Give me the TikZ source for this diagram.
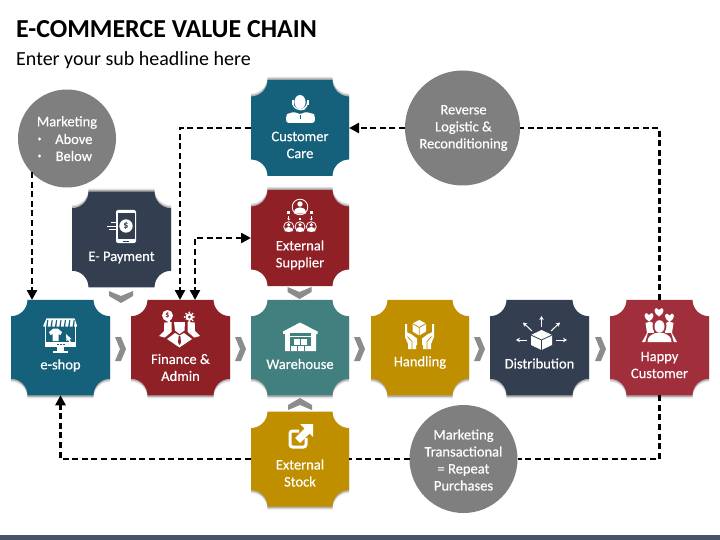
\documentclass[tikz,border=0pt]{standalone}
\usepackage{fontspec}
\setmainfont{Carlito}
\newfontfamily\txtfont[FakeBold=0.35]{Carlito}
\usetikzlibrary{arrows.meta,shadows,backgrounds}
\definecolor{cteal}{HTML}{15607A}
\definecolor{ccrim}{HTML}{8E2026}
\definecolor{cware}{HTML}{41807E}
\definecolor{cgold}{HTML}{BF8F00}
\definecolor{cdark}{HTML}{333F50}
\definecolor{chappy}{HTML}{A12F3B}
\definecolor{cgrey}{HTML}{7F7F7F}
\definecolor{cbar}{HTML}{44546A}
\makeatletter
\pgfdeclareshape{notchbox}{
  \inheritsavedanchors[from=rectangle]
  \inheritanchorborder[from=rectangle]
  \inheritanchor[from=rectangle]{center}
  \inheritanchor[from=rectangle]{north}
  \inheritanchor[from=rectangle]{south}
  \inheritanchor[from=rectangle]{east}
  \inheritanchor[from=rectangle]{west}
  \backgroundpath{
    \southwest \pgf@xa=\pgf@x \pgf@ya=\pgf@y
    \northeast \pgf@xb=\pgf@x \pgf@yb=\pgf@y
    \def\nr{16.5pt}
    \pgfpathmoveto{\pgfpoint{\pgf@xa+\nr}{\pgf@ya}}
    \pgfpathlineto{\pgfpoint{\pgf@xb-\nr}{\pgf@ya}}
    \pgfpatharc{180}{90}{\nr}
    \pgfpathlineto{\pgfpoint{\pgf@xb}{\pgf@yb-\nr}}
    \pgfpatharc{270}{180}{\nr}
    \pgfpathlineto{\pgfpoint{\pgf@xa+\nr}{\pgf@yb}}
    \pgfpatharc{0}{-90}{\nr}
    \pgfpathlineto{\pgfpoint{\pgf@xa}{\pgf@ya+\nr}}
    \pgfpatharc{90}{0}{\nr}
    \pgfpathclose
  }
}
\makeatother
\tikzset{
  x=1pt,y=-1pt,
  notched/.style={shape=notchbox,inner sep=0pt,outer sep=0pt,minimum width=99pt,minimum height=95.5pt,fill=#1},
  shadowdown/.style={general shadow={shadow yshift=-3pt,fill=black,opacity=.12},general shadow={shadow yshift=-1.5pt,fill=black,opacity=.22}},
  shadowup/.style={general shadow={shadow yshift=3pt,fill=black,opacity=.12},general shadow={shadow yshift=1.5pt,fill=black,opacity=.22}},
  bubble/.style={circle,fill=cgrey,inner sep=0pt,outer sep=0pt,minimum size=#1},
  txt/.style={text=white,align=center,font=\txtfont\fontsize{14.5}{17}\selectfont,inner sep=0pt},
  link/.style={draw=black,line width=2.4pt,dash pattern=on 6pt off 3.6pt},
  tipend/.style={-{Triangle[length=10pt,width=10pt]}},
  tipboth/.style={{Triangle[length=10pt,width=10pt]}-{Triangle[length=10pt,width=10pt]}},
  chev/.style={fill=cgrey!90!white,draw=none},
}
\newcommand{\chevright}[2]{\fill[chev] (#1,#2) -- ++(6,0) -- ++(5,12) -- ++(-5,12) -- ++(-6,0) -- ++(5,-12) -- cycle;}
\newcommand{\chevdown}[2]{\fill[chev] (#1,#2) -- ++(0,5) -- ++(12,7) -- ++(12,-7) -- ++(0,-5) -- ++(-12,5) -- cycle;}
\newcommand{\chevup}[2]{\fill[chev] (#1,#2) -- ++(0,-5) -- ++(12,-7) -- ++(12,7) -- ++(0,5) -- ++(-12,-5) -- cycle;}
\newcommand{\persn}[4]{\fill[#4] (#1,#2) circle[radius=3.6*#3];
  \fill[#4] (#1-8*#3,#2+13*#3) .. controls (#1-8*#3,#2+6*#3) and (#1-4*#3,#2+4.5*#3) .. (#1,#2+4.5*#3) .. controls (#1+4*#3,#2+4.5*#3) and (#1+8*#3,#2+6*#3) .. (#1+8*#3,#2+13*#3) -- cycle;}
\newcommand{\hrt}[3]{\fill[white] (#1,#2+#3) .. controls (#1-.6*#3,#2+.5*#3) and (#1-1.1*#3,#2+.1*#3) .. (#1-#3,#2-.35*#3) .. controls (#1-.9*#3,#2-#3) and (#1-.2*#3,#2-#3) .. (#1,#2-.45*#3) .. controls (#1+.2*#3,#2-#3) and (#1+.9*#3,#2-#3) .. (#1+#3,#2-.35*#3) .. controls (#1+1.1*#3,#2+.1*#3) and (#1+.6*#3,#2+.5*#3) .. (#1,#2+#3) -- cycle;}
\begin{document}
\begin{tikzpicture}
\useasboundingbox (0,0) rectangle (720,540);
\fill[white] (0,0) rectangle (720,540);
\fill[cbar] (0,535) rectangle (720,540);
\node[anchor=west,inner sep=0pt,font=\fontsize{25.9}{28}\selectfont\bfseries] (title) at (16,29) {E-COMMERCE VALUE CHAIN};
\node[anchor=west,inner sep=0pt,font=\fontsize{20}{24}\selectfont] (sub) at (16,60) {Enter your sub headline here};

% boxes
\node[notched=cteal,shadowdown] (eshop) at (60.5,347.5) {};
\node[notched=ccrim,shadowdown] (fin) at (180.5,347.5) {};
\node[notched=cware,shadowdown,minimum width=98pt] (ware) at (300,347.5) {};
\node[notched=cgold,shadowdown,minimum width=98pt] (hand) at (420,347.5) {};
\node[notched=cdark,shadowdown] (dist) at (539.5,347.5) {};
\node[notched=chappy,shadowdown] (happy) at (659.5,347.5) {};
\node[notched=cgold,shadowdown,minimum width=98pt,minimum height=95pt] (stock) at (300,459) {};
\node[notched=cteal,shadowup,minimum width=98pt,minimum height=96pt] (care) at (300,128) {};
\node[notched=ccrim,shadowup,minimum width=98pt,minimum height=96pt] (supp) at (300,238) {};
\node[notched=cdark,shadowup] (pay) at (121.5,239.5) {};

% circles
\node[bubble=98pt] (mk) at (67,138.5) {};
\node[bubble=115pt] (rev) at (462.5,128) {};
\node[bubble=108pt] (mt) at (463.5,459) {};

% coordinates
\coordinate (mkout) at (32,172);
\coordinate (finL) at (180,300);
\coordinate (finR) at (195,300);

% connectors
\draw[link,tipend] (mkout) -- (32,300);
\draw[link,tipend] (care.west) -| (finL);
\draw[link,tipboth] (supp.west) -| (finR);
\draw[link,tipend] (rev.west) -- (care.east);
\draw[link] (happy.north) |- (rev.east);
\draw[link] (happy.south) |- (mt.east);
\draw[link] (mt.west) -- (stock.east);
\draw[link,tipend] (stock.west) -| (eshop.south);

% chevrons
\chevright{115}{337}
\chevright{235}{337}
\chevright{354}{337}
\chevright{474}{337}
\chevright{595}{337}
\chevdown{109}{291}
\chevdown{287.5}{287}
\chevup{288}{410}

% labels
\node[txt] (mk1) at (67,122.5) {Marketing};
\node[txt,anchor=west] (mk2) at (55,139) {Above};
\node[txt,anchor=west] (mk3) at (55.5,156) {Below};
\fill[white] (39.5,139) circle[radius=1.6];
\fill[white] (39.5,156) circle[radius=1.6];
\node[txt] (revt) at (463.5,128) {Reverse\\Logistic \&\\Reconditioning};
\node[txt] (mtt) at (463.5,460) {Marketing\\Transactional\\= Repeat\\Purchases};
\node[txt] (l1) at (60.5,365.5) {e-shop};
\node[txt] (l2) at (180.5,367.5) {Finance \&\\Admin};
\node[txt] (l3) at (300,364) {Warehouse};
\node[txt] (l4) at (420,362.5) {Handling};
\node[txt] (l5) at (539.5,363.5) {Distribution};
\node[txt] (l6) at (659.5,365) {Happy\\Customer};
\node[txt] (l7) at (300,473) {External\\Stock};
\node[txt] (l8) at (300,145) {Customer\\Care};
\node[txt] (l9) at (300,255) {External\\Supplier};
\node[txt] (l10) at (121.5,257.5) {E- Payment};

% --- icons ---
% e-shop
\fill[white] (45,324) rectangle (76,346.5);
\fill[cteal] (46.3,325) rectangle (74.7,342);
\fill[white] (43.3,325.5) -- (46.5,318.3) -- (74.5,318.3) -- (77,325.5) -- (77,326.5) -- (43.3,326.5) -- cycle;
\foreach \i in {0,...,6}{\fill[cteal] ({47.3+\i*4.4},320) -- ({48.3+\i*4.4},320) -- ({47.6+\i*4.4},327) -- ({46.1+\i*4.4},327) -- cycle;}
\fill[white] (49,332) -- (53,328.7) -- (58,328.7) -- (62,332) -- (60.5,335) -- (58.5,334) -- (58.5,341) -- (52.5,341) -- (52.5,334) -- (50.5,335) -- cycle;
\fill[white] (66,334) -- (71.5,339) -- (69.5,339.5) -- (71,342) -- (69.5,342.5) -- (68,340) -- (66.5,341) -- cycle;
\foreach \i in {0,1,2}{\fill[cteal] ({57+\i*3},343.5) rectangle ({58.5+\i*3},345);}
\fill[white] (57,346) rectangle (64,351);
\fill[white] (53,351) rectangle (68,353);
% finance
\fill[white] (167.5,315.5) circle[radius=5.5];
\fill[white] (165,320) -- (170,320) -- (170,323) -- cycle;
\node[inner sep=0pt,text=ccrim,font=\fontsize{8}{8}\selectfont\bfseries] (fdollar) at (167.5,315.5) {\$};
\fill[white] (189.3,317) circle[radius=3.8];
\foreach \a in {0,45,...,315}{\fill[white] (189.3,317) ++(\a:4.6) circle[radius=1];}
\fill[ccrim] (189.3,317) circle[radius=1.5];
\fill[white] (164.3,322.5) -- (172,322) -- (172,334) -- (168,338.5) -- (159,336) -- (164,331) -- cycle;
\fill[white] (194.7,322.5) -- (187,322) -- (187,334) -- (191,338.5) -- (200,336) -- (195,331) -- cycle;
\fill[ccrim] (171.5,320) -- (187.5,320) -- (187.5,332) -- (195,338.5) -- (179.5,349) -- (164,338.5) -- (171.5,332) -- cycle;
\fill[white] (174,322) -- (185,322) -- (184.5,330.5) -- (179.5,334) -- (175,330.5) -- cycle;
\fill[white] (167,339) -- (175,333) -- (179.5,335.5) -- (184,333) -- (192,339) -- (179.5,347.5) -- cycle;
\fill[ccrim] (178.7,335.5) -- (180.3,335.5) -- (181,342.5) -- (179.5,345) -- (178,342.5) -- cycle;
% warehouse
\fill[white] (283,331.5) -- (300,322.5) -- (317.5,331.5) -- (317.5,334) -- (316,334) -- (316,351) -- (285,351) -- (285,334) -- (283,334) -- cycle;
\fill[cware] (290,333) rectangle (311,351);
\fill[white] (290,335.5) rectangle (311,336.3);
\foreach \xx in {294,301}{\fill[white] (\xx,339) rectangle (\xx+6,345);}
\foreach \xx in {290.5,297.5,304.5}{\fill[white] (\xx,345.7) rectangle (\xx+6,351);}
% handling
\fill[white] (419.3,320) -- (426,323.5) -- (426,331.5) -- (419.3,335.5) -- (412.5,331.5) -- (412.5,323.5) -- cycle;
\draw[cgold,line width=.8pt] (412.5,323.5) -- (419.3,327.5) -- (426,323.5) (419.3,327.5) -- (419.3,335.5);
\fill[white] (405,324) -- (407,324) -- (407,332) -- (416,342) -- (416,349) -- (408,349) -- (408,344) -- (405,337) -- cycle;
\fill[white] (434,324) -- (432,324) -- (432,332) -- (423,342) -- (423,349) -- (431,349) -- (431,344) -- (434,337) -- cycle;
\fill[white] (407,332.5) -- (411,334) -- (417,338.5) -- (417,345) -- (412,345) -- cycle;
\fill[white] (432,332.5) -- (428,334) -- (422,338.5) -- (422,345) -- (427,345) -- cycle;
\draw[cgold,line width=.7pt] (407.5,336.5) -- (412,341.5) -- (412,349);
\draw[cgold,line width=.7pt] (431.5,336.5) -- (427,341.5) -- (427,349);
% distribution
\fill[white] (541.5,330) -- (552,335) -- (552,345) -- (541.5,350) -- (531,345) -- (531,335) -- cycle;
\draw[cdark,line width=.8pt] (531,335) -- (541.5,340) -- (552,335) (541.5,340) -- (541.5,350);
\begin{scope}[line width=1pt,-{Stealth[length=4pt,width=4.5pt]},draw=white]
\draw (541.5,327) -- (541.5,316);
\draw (527,340) -- (516,340);
\draw (556,340) -- (567,340);
\draw (532,331) -- (523,322.5);
\draw (551,331) -- (560,322.5);
\end{scope}
% happy
\hrt{649}{317}{4.5}
\hrt{659}{312}{4.5}
\hrt{669.5}{317.5}{4.5}
\fill[white] (645.5,323) -- (650,321.5) -- (653,323) -- (654,333) -- (649,342) -- (642,342) -- (647,333) -- cycle;
\fill[white] (673.5,323) -- (669,321.5) -- (666,323) -- (665,333) -- (670,342) -- (677,342) -- (672,333) -- cycle;
\fill[chappy] (659.5,326) ellipse[x radius=7,y radius=8];
\fill[chappy] (645,343) -- (648,333) -- (671,333) -- (674,343) -- cycle;
\fill[white] (659.5,326.5) ellipse[x radius=5,y radius=6.3];
\fill[white] (647.5,342) .. controls (647.5,336.5) and (651,335) .. (655.5,333) -- (663.5,333) .. controls (668,335) and (671.5,336.5) .. (671.5,342) -- cycle;
% stock
\draw[white,line width=3pt,rounded corners=2.5pt] (299,431) -- (290,431) -- (290,447) -- (306,447) -- (306,438);
\fill[white] (300,424) -- (313,424) -- (313,437) -- (309.5,433.5) -- (300,443) -- (295,438) -- (304.5,428.5) -- cycle;
% customer care
\draw[white,line width=1.1pt] (292.5,102) arc[start angle=180,end angle=0,radius=7.5];
\fill[white] (300,102) ellipse[x radius=5.6,y radius=7];
\fill[white] (291.5,100) rectangle (293.5,105.5);
\fill[white] (306.5,100) rectangle (308.5,105.5);
\draw[white,line width=.8pt] (307,106) -- (304,109.5) -- (300,110);
\fill[white,rounded corners=3pt] (286,123) -- (286,117) .. controls (287,114) and (292,112.5) .. (295,111.5) -- (300,115) -- (305,111.5) .. controls (308,112.5) and (314,114) .. (315,117) -- (315,123) -- cycle;
\fill[cteal] (299.5,115) -- (300.5,115) -- (300.5,119) -- (299.5,119) -- cycle;
% supplier
\draw[white,line width=.8pt] (300,207) circle[radius=7.8];
\persn{300}{204}{.75}{white}
\foreach \xx in {288.7,300,311.3}{
  \draw[white,line width=.8pt] (\xx,226.7) circle[radius=5];
  \persn{\xx}{224.8}{.5}{white}
}
\foreach \xx in {288.7,311.3}{
  \fill[white] (\xx-1.3,211) rectangle (\xx+1.3,214);
  \draw[white,line width=.7pt,-{Stealth[length=2pt,width=3pt]}] (\xx,216) -- (\xx,220.5);
}
\fill[white] (298.7,218) rectangle (301.3,220.5);
% e-payment
\fill[white,rounded corners=2pt] (116,210) rectangle (136,243);
\fill[cdark] (117.5,213) rectangle (134.5,239);
\fill[white] (126,226) circle[radius=6.7];
\node[inner sep=0pt,text=cdark,font=\fontsize{10}{10}\selectfont\bfseries] (pdollar) at (126,226) {\$};
\fill[cdark] (123,240.5) rectangle (129,241.5);
\fill[white] (111,222.5) rectangle (118,223.3);
\fill[white] (107,226) rectangle (118,226.8);
\fill[white] (109,229.5) rectangle (118,230.3);
\end{tikzpicture}
\end{document}
